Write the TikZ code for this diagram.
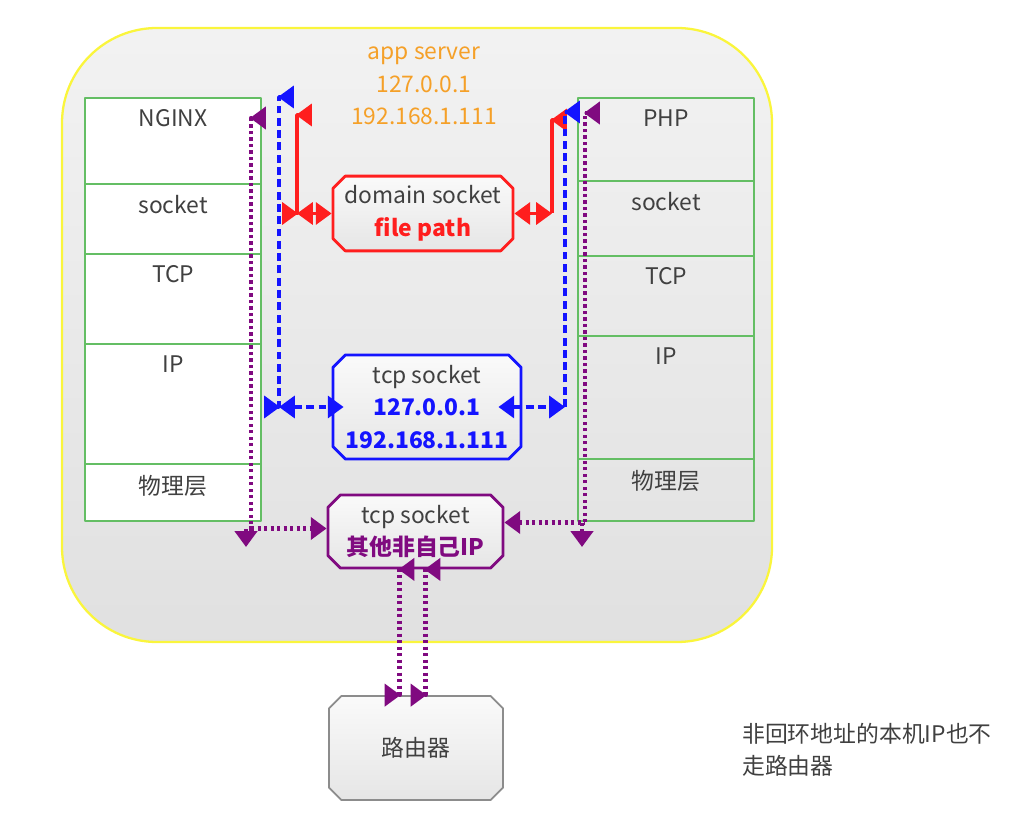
\documentclass[tikz,border=0pt]{standalone}
\usepackage{fontspec}
\setmainfont{Noto Sans CJK SC}
\usetikzlibrary{arrows.meta,calc,shapes.misc}

\definecolor{srvline}{RGB}{250,245,60}
\definecolor{laygreen}{RGB}{100,190,100}
\definecolor{txtgray}{RGB}{64,64,64}
\definecolor{srvorange}{RGB}{245,160,40}
\definecolor{sockred}{RGB}{255,30,30}
\definecolor{sockblue}{RGB}{20,20,255}
\definecolor{sockpurple}{RGB}{128,10,128}
\definecolor{routergray}{RGB}{140,140,140}

\def\px{0.02cm}

\tikzset{
  cell/.style={draw=laygreen, line width=1.2pt, anchor=north west,
    minimum width=176*\px, inner sep=0pt},
  lbl/.style={text=txtgray, anchor=north, yshift=-3.5pt},
  sockbox/.style={chamfered rectangle, chamfered rectangle sep=3.5pt,
    line width=1.6pt, top color=black!2, bottom color=black!10,
    align=center, text=txtgray, inner sep=2pt},
  redc/.style={sockred, line width=2pt},
  bluec/.style={sockblue, line width=2pt, dash pattern=on 4.5pt off 2.5pt},
  purc/.style={sockpurple, line width=2.4pt, dash pattern=on 1.8pt off 1.9pt},
}

\begin{document}
\begin{tikzpicture}[x=\px, y=-\px, line join=round, >={Triangle[length=9pt,width=12.5pt]},
  font=\fontsize{13}{18.5}\selectfont]
  \useasboundingbox (0,0) rectangle (1013,820);

  % app server
  \draw[srvline, line width=1.3pt, top color=black!5, bottom color=black!12,
    rounded corners=1.9cm] (62,28) rectangle (772,642);
  \node[srvorange, align=center] (srv) at (424,86) {app server\\127.0.0.1\\192.168.1.111};

  % NGINX stack
  \node[cell, fill=white, minimum height=86*\px, label={[lbl]90:NGINX}] (nginx) at (84,97) {};
  \node[cell, fill=white, minimum height=70*\px, label={[lbl]90:socket}] (nsock) at (84,183) {};
  \node[cell, fill=white, minimum height=90*\px, label={[lbl]90:TCP}] (ntcp) at (84,253) {};
  \node[cell, fill=white, minimum height=120*\px, label={[lbl]90:IP}] (nip) at (84,343) {};
  \node[cell, fill=white, minimum height=57*\px, label={[lbl]90:物理层}] (nphy) at (84,463) {};

  % PHP stack
  \node[cell, minimum height=83*\px, label={[lbl]90:PHP}] (php) at (577,97) {};
  \node[cell, minimum height=75*\px, label={[lbl]90:socket}] (psock) at (577,180) {};
  \node[cell, minimum height=80*\px, label={[lbl]90:TCP}] (ptcp) at (577,255) {};
  \node[cell, minimum height=123*\px, label={[lbl]90:IP}] (pip) at (577,335) {};
  \node[cell, minimum height=62*\px, label={[lbl]90:物理层}] (pphy) at (577,458) {};

  % sockets
  \node[sockbox, draw=sockred, minimum width=180*\px, minimum height=63*\px] (dom) at (423,213.5)
    {domain socket\\{\color{sockred}\bfseries file path}};
  \node[sockbox, draw=sockblue, minimum width=188*\px, minimum height=104*\px] (tcpb) at (427,407)
    {tcp socket\\{\color{sockblue}\bfseries 127.0.0.1}\\{\color{sockblue}\bfseries 192.168.1.111}};
  \node[sockbox, draw=sockpurple, minimum width=175*\px, minimum height=73*\px] (tcpo) at (415.5,531.5)
    {tcp socket\\{\color{sockpurple}\bfseries 其他非自己IP}};

  % router
  \node[sockbox, draw=routergray, line width=1pt, minimum width=174*\px, minimum height=104*\px] (rt) at (416,748) {路由器};
  \node[anchor=west, align=left, text=txtgray] (note) at (736,750) {非回环地址的本机IP也不\\走路由器};

  % ends of the connectors
  \coordinate (rTl) at (297,115);
  \coordinate (bTl) at (279,97);
  \coordinate (pTl) at (251,118);
  \coordinate (pBl) at (246,547);
  \coordinate (rTr) at (552,120);
  \coordinate (bTr) at (565,112);
  \coordinate (pTr) at (585,113);
  \coordinate (pBr) at (582,547);
  \coordinate (rJl) at (rTl |- dom.west);
  \coordinate (rJr) at (rTr |- dom.east);
  \coordinate (bJl) at (bTl |- tcpb.west);
  \coordinate (bJr) at (bTr |- tcpb.east);
  \coordinate (poW) at ($(tcpo.west)+(0,-3)$);
  \coordinate (poE) at ($(tcpo.east)+(0,-9)$);
  \coordinate (pa) at ($(tcpo.south)+(-16,0)$);
  \coordinate (pb) at ($(tcpo.south)+(10,0)$);

  % domain socket
  \draw[redc,<->] (rJl) -- (dom.west);
  \draw[redc,<->] ($(rJl)+(1,0)$) -- (rJl) -- (rTl) -- ++(-1,0);
  \draw[redc,<->] (dom.east) -- (rJr);
  \draw[redc,->] (rJr) -- (rTr) -- ++(-1,0);

  % tcp socket, loopback
  \draw[bluec,<->] (bJl) -- ($(tcpb.west)+(12,0)$);
  \draw[bluec,<->] ($(bJl)+(1,0)$) -- (bJl) -- (bTl) -- ++(-1,0);
  \draw[bluec,<->] ($(tcpb.east)+(-24,0)$) -- (bJr);
  \draw[bluec,->] (bJr) -- (bTr) -- ++(-1,0);

  % tcp socket, other ip
  \draw[purc,<->] (pBl) -- (pBl |- poW) -- (pTl |- poW) -- (pTl) -- ++(-1,0);
  \draw[purc,->] (pTl |- poW) -- (poW);
  \draw[purc,<->] (pBr) -- (pBr |- poE) -- (pTr |- poE) -- (pTr) -- ++(-1,0);
  \draw[purc,<-] (poE) -- (poE -| pTr);
  \draw[purc,<->] ($(pa)+(-1,0)$) -- (pa) -- (pa |- rt.north) -- ++(1,0);
  \draw[purc,<->] ($(pb)+(-1,0)$) -- (pb) -- (pb |- rt.north) -- ++(1,0);
\end{tikzpicture}
\end{document}
